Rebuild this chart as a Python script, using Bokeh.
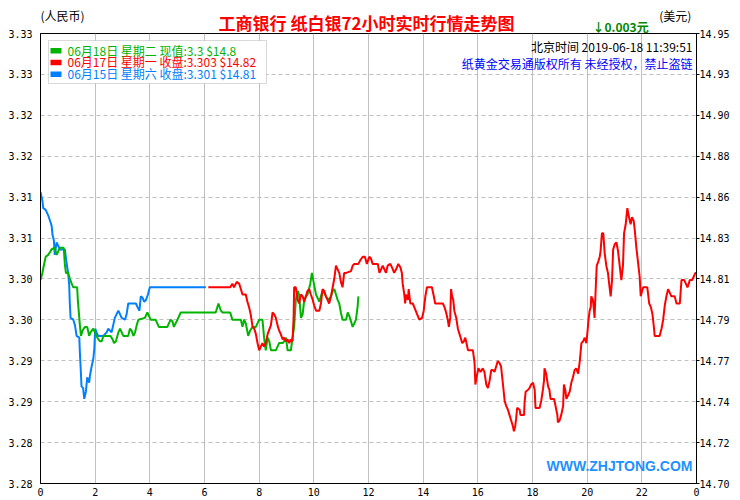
from bokeh.plotting import figure
from bokeh.layouts import column
from bokeh.models import Range1d, LinearAxis, FixedTicker, Label, BoxAnnotation
from bokeh.embed import file_html
from bokeh.resources import INLINE
import numpy as np

# ---------------- data (hours of day, price in USD/oz) ----------------
x_ticks = [0, 2, 4, 6, 8, 10, 12, 14, 16, 18, 20, 22, 24]
x_tick_labels = ["0", "2", "4", "6", "8", "10", "12", "14", "16", "18", "20", "22", "0"]
left_tick_labels = ["3.28", "3.28", "3.29", "3.29", "3.30", "3.30", "3.31", "3.31", "3.32", "3.32", "3.33", "3.33"]
right_tick_labels = ["14.70", "14.72", "14.74", "14.77", "14.79", "14.81", "14.83", "14.86", "14.88", "14.90", "14.93", "14.95"]
usd_low, usd_high = 14.70, 14.95

legend_dates = ["06月18日", "06月17日", "06月15日"]
legend_weekdays = ["星期二", "星期一", "星期六"]
legend_kinds = ["现值", "收盘", "收盘"]
legend_cny = [3.3, 3.303, 3.301]
legend_usd = [14.8, 14.82, 14.81]
change_text = "0.003元"
beijing_time = "2019-06-18 11:39:51"

# 06-18 (green)
green_points = [(0.00,14.813),(0.07,14.817),(0.12,14.821),(0.19,14.826),(0.28,14.827),(0.37,14.829),(0.40,14.830),
 (0.52,14.831),(0.59,14.827),(0.65,14.829),(0.71,14.831),(0.85,14.831),(0.89,14.822),(0.93,14.817),(1.01,14.817),
 (1.07,14.814),(1.14,14.811),(1.20,14.809),(1.34,14.809),(1.37,14.801),(1.42,14.792),(1.44,14.788),(1.48,14.782),
 (1.54,14.785),(1.62,14.787),(1.71,14.787),(1.78,14.782),(1.83,14.784),(1.93,14.786),(1.99,14.784),(2.08,14.781),
 (2.17,14.779),(2.24,14.779),(2.30,14.782),(2.56,14.782),(2.64,14.780),(2.69,14.778),(2.76,14.779),(2.85,14.784),
 (2.91,14.786),(2.97,14.784),(3.03,14.782),(3.21,14.782),(3.27,14.786),(3.33,14.785),(3.40,14.782),(3.46,14.784),
 (3.52,14.788),(3.58,14.791),(3.82,14.792),(3.91,14.795),(3.97,14.793),(4.03,14.791),(4.21,14.791),(4.33,14.787),
 (4.64,14.787),(4.76,14.791),(4.83,14.790),(4.88,14.787),(5.01,14.791),(5.13,14.795),(6.41,14.795),(6.51,14.800),
 (6.60,14.796),(6.66,14.795),(6.94,14.795),(7.02,14.791),(7.33,14.791),(7.39,14.787),(7.45,14.791),(7.51,14.789),
 (7.60,14.782),(7.67,14.785),(7.76,14.787),(7.88,14.787),(8.00,14.791),(8.12,14.791),(8.18,14.781),(8.24,14.774),
 (8.31,14.781),(8.37,14.779),(8.43,14.774),(8.61,14.774),(8.73,14.778),(8.86,14.778),(8.91,14.779),(8.98,14.781),
 (9.04,14.774),(9.16,14.774),(9.22,14.781),(9.28,14.787),(9.34,14.802),(9.41,14.807),(9.46,14.805),(9.53,14.792),
 (9.59,14.794),(9.65,14.802),(9.71,14.804),(9.77,14.805),(9.87,14.811),(9.93,14.817),(9.99,14.812),(10.08,14.805),
 (10.20,14.801),(10.26,14.804),(10.32,14.807),(10.38,14.806),(10.44,14.804),(10.53,14.802),(10.63,14.804),
 (10.69,14.807),(10.75,14.808),(10.81,14.805),(10.87,14.802),(10.93,14.800),(10.99,14.795),(11.05,14.791),
 (11.18,14.791),(11.24,14.795),(11.30,14.793),(11.36,14.790),(11.42,14.787),(11.48,14.789),(11.54,14.791),
 (11.60,14.798),(11.63,14.804)]

# 06-17 (red)
red_points = [(6.14,14.809),(6.94,14.809),(7.02,14.811),(7.08,14.809),(7.18,14.812),(7.27,14.811),(7.39,14.805),
 (7.51,14.805),(7.57,14.801),(7.63,14.798),(7.69,14.794),(7.76,14.787),(7.82,14.786),(7.88,14.783),(7.94,14.778),
 (8.00,14.774),(8.06,14.776),(8.12,14.778),(8.18,14.776),(8.24,14.778),(8.31,14.783),(8.43,14.788),(8.49,14.795),
 (8.55,14.794),(8.61,14.792),(8.67,14.788),(8.73,14.785),(8.79,14.783),(8.86,14.780),(8.91,14.781),(8.98,14.779),
 (9.04,14.780),(9.10,14.778),(9.16,14.780),(9.22,14.779),(9.26,14.792),(9.28,14.809),(9.34,14.809),(9.41,14.802),
 (9.46,14.800),(9.53,14.805),(9.59,14.804),(9.65,14.801),(9.71,14.804),(9.77,14.807),(9.83,14.808),(9.89,14.805),
 (9.96,14.802),(10.01,14.799),(10.08,14.796),(10.20,14.796),(10.26,14.800),(10.32,14.808),(10.38,14.807),
 (10.44,14.804),(10.50,14.802),(10.56,14.800),(10.63,14.804),(10.69,14.809),(10.75,14.814),(10.81,14.821),
 (10.87,14.819),(10.93,14.817),(10.99,14.812),(11.05,14.809),(11.11,14.817),(11.18,14.817),(11.36,14.818),
 (11.42,14.821),(11.48,14.822),(11.63,14.822),(11.70,14.824),(11.79,14.826),(11.87,14.826),(11.94,14.822),
 (12.03,14.826),(12.09,14.825),(12.15,14.822),(12.34,14.822),(12.40,14.817),(12.46,14.819),(12.52,14.821),
 (12.58,14.819),(12.64,14.817),(12.70,14.821),(12.80,14.822),(12.89,14.819),(12.94,14.817),(13.01,14.819),
 (13.09,14.822),(13.17,14.820),(13.22,14.817),(13.25,14.811),(13.31,14.805),(13.34,14.800),(13.37,14.805),
 (13.44,14.802),(13.47,14.808),(13.53,14.800),(13.62,14.800),(13.70,14.797),(13.78,14.794),(13.86,14.791),
 (13.96,14.792),(14.02,14.796),(14.08,14.804),(14.14,14.809),(14.32,14.809),(14.39,14.804),(14.44,14.800),
 (14.72,14.800),(14.78,14.798),(14.84,14.795),(14.90,14.791),(14.94,14.787),(14.99,14.792),(15.02,14.808),
 (15.06,14.804),(15.10,14.802),(15.14,14.796),(15.21,14.792),(15.27,14.786),(15.33,14.783),(15.39,14.780),
 (15.43,14.778),(15.49,14.779),(15.54,14.781),(15.57,14.779),(15.64,14.774),(15.82,14.774),(15.88,14.767),
 (15.91,14.755),(15.98,14.761),(16.02,14.764),(16.10,14.762),(16.18,14.764),(16.24,14.762),(16.31,14.755),
 (16.37,14.753),(16.43,14.757),(16.49,14.763),(16.55,14.763),(16.61,14.762),(16.67,14.765),(16.73,14.768),
 (16.79,14.767),(16.85,14.765),(16.92,14.755),(16.98,14.746),(17.04,14.743),(17.10,14.741),(17.16,14.738),
 (17.22,14.735),(17.28,14.732),(17.32,14.729),(17.37,14.732),(17.40,14.736),(17.44,14.742),(17.53,14.741),
 (17.56,14.738),(17.69,14.738),(17.71,14.745),(17.75,14.751),(17.83,14.752),(17.89,14.753),(17.95,14.755),
 (18.02,14.756),(18.08,14.752),(18.11,14.742),(18.26,14.742),(18.32,14.746),(18.38,14.752),(18.42,14.757),
 (18.44,14.764),(18.50,14.761),(18.57,14.754),(18.62,14.752),(18.66,14.747),(18.79,14.747),(18.83,14.744),
 (18.87,14.741),(18.91,14.738),(18.93,14.734),(18.99,14.735),(19.05,14.738),(19.12,14.743),(19.15,14.755),
 (19.20,14.752),(19.24,14.747),(19.30,14.749),(19.36,14.751),(19.42,14.756),(19.48,14.759),(19.54,14.763),
 (19.60,14.764),(19.67,14.761),(19.73,14.768),(19.79,14.778),(19.85,14.779),(19.91,14.781),(19.97,14.778),
 (20.01,14.784),(20.05,14.791),(20.09,14.796),(20.13,14.798),(20.15,14.804),(20.21,14.802),(20.25,14.796),
 (20.27,14.792),(20.32,14.811),(20.35,14.821),(20.40,14.823),(20.46,14.826),(20.49,14.829),(20.54,14.839),
 (20.59,14.839),(20.64,14.828),(20.70,14.821),(20.76,14.817),(20.82,14.809),(20.86,14.804),(20.91,14.813),
 (20.95,14.830),(21.01,14.833),(21.07,14.834),(21.13,14.829),(21.19,14.821),(21.25,14.813),(21.31,14.821),
 (21.35,14.839),(21.41,14.844),(21.47,14.853),(21.53,14.848),(21.59,14.844),(21.64,14.848),(21.70,14.846),
 (21.74,14.841),(21.80,14.831),(21.86,14.823),(21.92,14.815),(21.96,14.804),(22.01,14.807),(22.05,14.809),
 (22.13,14.809),(22.20,14.809),(22.27,14.800),(22.33,14.798),(22.39,14.794),(22.44,14.787),(22.47,14.782),
 (22.65,14.782),(22.72,14.786),(22.78,14.791),(22.84,14.799),(22.90,14.804),(22.96,14.808),(23.02,14.806),
 (23.08,14.804),(23.20,14.804),(23.27,14.800),(23.39,14.800),(23.45,14.813),(23.55,14.813),(23.61,14.811),
 (23.67,14.809),(23.72,14.811),(23.75,14.813),(23.84,14.813),(23.90,14.815),(23.96,14.817),(24.00,14.817)]

# 06-15 (blue)
blue_points = [(0.00,14.862),(0.07,14.857),(0.10,14.853),(0.19,14.852),(0.28,14.849),(0.37,14.845),(0.41,14.843),
 (0.44,14.838),(0.49,14.835),(0.52,14.827),(0.59,14.834),(0.65,14.832),(0.71,14.830),(0.89,14.830),(0.95,14.823),
 (1.01,14.817),(1.05,14.810),(1.07,14.801),(1.10,14.792),(1.20,14.791),(1.26,14.788),(1.32,14.782),(1.42,14.781),
 (1.44,14.773),(1.47,14.764),(1.50,14.754),(1.56,14.753),(1.60,14.747),(1.66,14.751),(1.71,14.759),(1.78,14.756),
 (1.81,14.760),(1.87,14.765),(1.93,14.769),(1.97,14.775),(2.00,14.786),(2.05,14.784),(2.11,14.782),(2.30,14.782),
 (2.42,14.784),(2.48,14.786),(2.60,14.784),(2.66,14.788),(2.72,14.792),(2.78,14.794),(2.85,14.796),(2.91,14.794),
 (2.97,14.792),(3.09,14.791),(3.15,14.794),(3.21,14.800),(3.27,14.800),(3.49,14.800),(3.55,14.798),(3.62,14.796),
 (3.67,14.804),(3.74,14.803),(3.79,14.801),(3.86,14.802),(3.93,14.805),(4.00,14.809),(6.05,14.809)]

series_colors = ["#00b400", "#ff0000", "#0080ff"]

CJK = "Noto Sans CJK SC"
W, H = 740, 500
HEAD_H = 44

# ---------------- header overlay (texts above the plot frame) ----------------
head = figure(width=W, height=HEAD_H, x_range=Range1d(0, W), y_range=Range1d(HEAD_H, 0),
              output_backend="svg", toolbar_location=None, x_axis_location=None, y_axis_location=None,
              min_border=0, background_fill_color=None, border_fill_color=None,
              margin=(0, 0, -HEAD_H, 0))
head.outline_line_color = None
head.grid.visible = False

def hlab(text, x, y, color, size, align="left", bold=False, font=CJK):
    head.add_layout(Label(x=x, y=y, text=text, text_color=color, text_font_size=f"{size}px",
                          text_align=align, text_baseline="middle", text_font=font,
                          text_font_style="bold" if bold else "normal"))

hlab("(人民币)", 0, 15, "black", 12)
hlab("(美元)", 698, 14.5, "black", 12)
hlab("工商银行  纸白银72小时实时行情走势图", 370, 22, "#ff0000", 17, align="center", bold=True)
hlab("↓" + change_text, 686, 26, "#008800", 12, align="right", bold=True)

# ---------------- main chart ----------------
p = figure(width=W, height=H, x_range=Range1d(0, 24), y_range=Range1d(usd_low, usd_high),
           output_backend="svg", toolbar_location=None,
           min_border_left=40, min_border_right=44, min_border_top=33, min_border_bottom=17,
           background_fill_color="white", border_fill_color=None)
p.outline_line_color = "black"
p.outline_line_width = 1

y_ticks = np.linspace(usd_low, usd_high, len(right_tick_labels)).tolist()

tick_font = "DejaVu Sans Mono"
xa = p.xaxis[0]
xa.ticker = FixedTicker(ticks=x_ticks)
xa.major_label_overrides = {t: l for t, l in zip(x_ticks, x_tick_labels)}
ya = p.yaxis[0]
ya.ticker = FixedTicker(ticks=y_ticks)
ya.major_label_overrides = {t: l for t, l in zip(y_ticks, left_tick_labels)}
ra = LinearAxis(ticker=FixedTicker(ticks=y_ticks))
ra.major_label_overrides = {t: l for t, l in zip(y_ticks, right_tick_labels)}
p.add_layout(ra, "right")

for ax in (xa, ya, ra):
    ax.axis_line_color = "black"
    ax.major_tick_line_color = "black"
    ax.minor_tick_line_color = None
    ax.major_tick_in = 0
    ax.major_tick_out = 0
    ax.major_label_text_font = tick_font
    ax.major_label_text_font_size = "10px"
    ax.major_label_text_color = "black"
xa.major_label_standoff = 4
ya.major_label_standoff = 8
ra.major_tick_out = 3
ra.major_label_standoff = 0

p.xgrid.ticker = FixedTicker(ticks=x_ticks)
p.xgrid.grid_line_color = "#c0c0c0"
p.ygrid.grid_line_color = "#c0c0c0"
p.ygrid.grid_line_dash = "4 3"

for pts, col in zip([blue_points, green_points, red_points], [series_colors[2], series_colors[0], series_colors[1]]):
    xs = [a for a, b in pts]
    ys = [b for a, b in pts]
    p.line(xs, ys, line_color=col, line_width=2)

def lab(text, x, y, color, size, align="left", bold=False, font=CJK):
    p.add_layout(Label(x=x, y=y, x_units="canvas", y_units="canvas", text=text,
                       text_color=color, text_font_size=f"{size}px", text_align=align,
                       text_baseline="middle", text_font=font,
                       text_font_style="bold" if bold else "normal"))

lab("北京时间 " + beijing_time, 692, 46, "black", 12, align="right")
lab("纸黄金交易通版权所有 未经授权，禁止盗链", 692, 63, "#0000ff", 12, align="right")
lab("WWW.ZHJTONG.COM", 692, 465, "#1e90ff", 14, align="right", bold=True, font="Liberation Sans")

def cbox(left, right, top, bottom, **kw):
    p.add_layout(BoxAnnotation(left=left, right=right, top=top, bottom=bottom,
                               left_units="canvas", right_units="canvas",
                               top_units="canvas", bottom_units="canvas", **kw))

cbox(48, 266, 40, 83, fill_color="white", fill_alpha=1, line_color="#808080", line_width=1)
row_y0, row_step = 49.5, 11.7
for i in range(3):
    ry = row_y0 + i * row_step
    cbox(50, 61, ry - 2, ry + 3.5, fill_color=series_colors[i], fill_alpha=1, line_color=None)
    txt = f"{legend_dates[i]} {legend_weekdays[i]} {legend_kinds[i]}:{legend_cny[i]} ${legend_usd[i]}"
    lab(txt, 67, ry, series_colors[i], 12)

open("out.html", "w").write(file_html(column(head, p, spacing=0), INLINE))
